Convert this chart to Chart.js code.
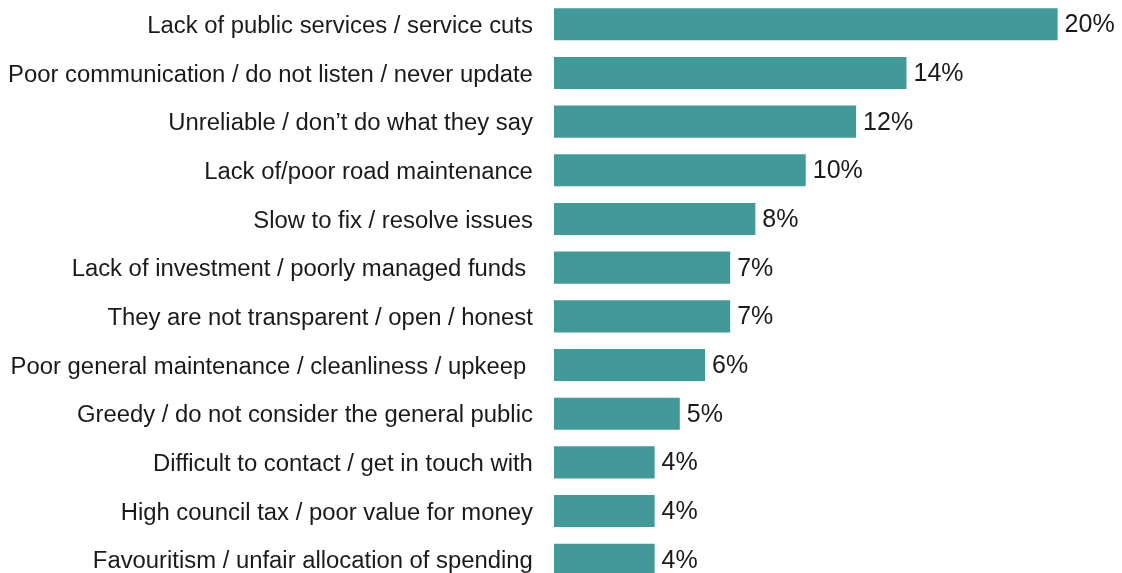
<!DOCTYPE html>
<html>
<head>
<meta charset="utf-8">
<script src="https://cdn.jsdelivr.net/npm/chart.js@4/dist/chart.umd.min.js"></script>
<style>
  html, body { margin: 0; padding: 0; background: #fff; overflow: hidden; }
  #wrap { width: 1122px; height: 608px; position: absolute; left: 0; top: -12px; }
</style>
</head>
<body>
<div id="wrap"><canvas id="complaints"></canvas></div>
<script>
const reasons = [
  'Lack of public services / service cuts',
  'Poor communication / do not listen / never update',
  'Unreliable / don\u2019t do what they say',
  'Lack of/poor road maintenance',
  'Slow to fix / resolve issues',
  'Lack of investment / poorly managed funds ',
  'They are not transparent / open / honest',
  'Poor general maintenance / cleanliness / upkeep ',
  'Greedy / do not consider the general public',
  'Difficult to contact / get in touch with',
  'High council tax / poor value for money',
  'Favouritism / unfair allocation of spending'
];
const shares = [20, 14, 12, 10, 8, 7, 7, 6, 5, 4, 4, 4];
const barColor = '#429999';
const fontFamily = '"Liberation Sans", Arial, sans-serif';

// percentage text after each bar
const valueLabels = {
  id: 'valueLabels',
  afterDatasetsDraw(chart) {
    const { ctx } = chart;
    const meta = chart.getDatasetMeta(0);
    ctx.save();
    ctx.font = '25px ' + fontFamily;
    ctx.fillStyle = '#1a1a1a';
    ctx.textAlign = 'left';
    ctx.textBaseline = 'middle';
    meta.data.forEach((bar, i) => {
      ctx.fillText(shares[i] + '%', bar.x + 7, bar.y + 1);
    });
    ctx.restore();
  }
};

const ctx = document.getElementById('complaints').getContext('2d');
new Chart(ctx, {
  type: 'bar',
  data: {
    labels: reasons,
    datasets: [{
      data: shares,
      backgroundColor: barColor,
      borderWidth: 0,
      barPercentage: 0.66,
      categoryPercentage: 1
    }]
  },
  options: {
    indexAxis: 'y',
    responsive: true,
    maintainAspectRatio: false,
    animation: false,
    layout: { padding: { left: 8, right: 14, top: 0, bottom: 0 } },
    plugins: {
      legend: { display: false },
      tooltip: { enabled: false }
    },
    scales: {
      x: {
        display: false,
        min: 0,
        max: 22
      },
      y: {
        grid: { display: false, drawTicks: true, tickLength: 21 },
        border: { display: false },
        ticks: {
          color: '#1a1a1a',
          padding: 0,
          labelOffset: 2,
          autoSkip: false,
          font: { family: fontFamily, size: 23.85, lineHeight: 1 }
        }
      }
    }
  },
  plugins: [valueLabels]
});
</script>
</body>
</html>
